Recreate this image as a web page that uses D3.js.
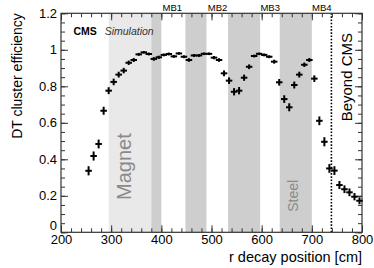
<!DOCTYPE html>
<html>
<head>
<meta charset="utf-8">
<script src="https://cdn.jsdelivr.net/npm/d3@7"></script>
<style>
  body { margin: 0; background: #fff; }
  svg { display: block; font-family: "Liberation Sans", Arial, Helvetica, sans-serif; }
</style>
</head>
<body>
<svg id="chart" width="374" height="268"></svg>
<script>
// bin centres [cm] and efficiency
const rDecay = [255, 265, 275, 285, 295, 305, 315, 325, 335, 345,
                355, 365, 375, 385, 395, 405, 415, 425, 435, 445,
                455, 465, 475, 485, 495, 505, 515, 525, 535, 545,
                555, 565, 575, 585, 595, 605, 615, 625, 635, 645,
                655, 665, 675, 685, 695, 705, 715, 725, 735, 745,
                755, 765, 775, 785, 795];
const efficiency = [0.337, 0.418, 0.484, 0.666, 0.776, 0.824, 0.864, 0.886, 0.929, 0.944,
                    0.975, 0.986, 0.977, 0.950, 0.959, 0.972, 0.977, 0.964, 0.980, 0.962,
                    0.944, 0.969, 0.969, 0.978, 0.978, 0.957, 0.944, 0.871, 0.831, 0.770,
                    0.776, 0.847, 0.907, 0.966, 0.978, 0.972, 0.962, 0.935, 0.822, 0.730,
                    0.685, 0.807, 0.864, 0.918, 0.944, 0.842, 0.611, 0.496, 0.350, 0.338,
                    0.259, 0.236, 0.219, 0.195, 0.173];
const effError = [0.025, 0.025, 0.024, 0.022, 0.019, 0.018, 0.016, 0.015, 0.012, 0.011,
                  0.008, 0.007, 0.008, 0.010, 0.009, 0.008, 0.008, 0.008, 0.007, 0.008,
                  0.010, 0.008, 0.008, 0.007, 0.007, 0.009, 0.010, 0.016, 0.018, 0.020,
                  0.020, 0.017, 0.013, 0.008, 0.007, 0.008, 0.008, 0.011, 0.018, 0.021,
                  0.022, 0.019, 0.016, 0.012, 0.011, 0.018, 0.024, 0.025, 0.024, 0.024,
                  0.022, 0.021, 0.021, 0.020, 0.019];
const rHalfWidth = 6.5;

const magnetRegion = [295, 380];
const steelRegions = [[380, 400], [448, 490], [533, 597], [636, 700]];
const chamberNames = ['MB1', 'MB2', 'MB3', 'MB4'];
const chamberCentres = [422, 512, 617, 720];
const cmsEdge = 739;

const xTickValues = [200, 300, 400, 500, 600, 700, 800];
const yTickValues = [0, 0.2, 0.4, 0.6, 0.8, 1, 1.2];

const frame = { left: 61, right: 362, top: 13.3, bottom: 232.3 };

const svg = d3.select('#chart');
const x = d3.scaleLinear().domain([200, 800]).range([frame.left, frame.right]);
const y = d3.scaleLinear().domain([0, 1.2]).range([frame.bottom, frame.top]);

// shaded detector regions
svg.append('rect')
  .attr('x', x(magnetRegion[0]))
  .attr('y', frame.top)
  .attr('width', x(magnetRegion[1]) - x(magnetRegion[0]))
  .attr('height', frame.bottom - frame.top)
  .attr('fill', '#e9e9e9');

svg.selectAll('rect.steel')
  .data(steelRegions)
  .enter().append('rect')
  .attr('class', 'steel')
  .attr('x', d => x(d[0]))
  .attr('y', frame.top)
  .attr('width', d => x(d[1]) - x(d[0]))
  .attr('height', frame.bottom - frame.top)
  .attr('fill', '#cecece');

// region labels
svg.append('text')
  .attr('transform', `translate(${x(340)},${y(0.36)}) rotate(-90)`)
  .attr('text-anchor', 'middle')
  .attr('font-size', 20)
  .attr('fill', '#8a8a8a')
  .text('Magnet');

svg.append('text')
  .attr('transform', `translate(${x(673)},${y(0.2)}) rotate(-90)`)
  .attr('text-anchor', 'middle')
  .attr('font-size', 14)
  .attr('fill', '#8a8a8a')
  .text('Steel');

svg.append('text')
  .attr('transform', `translate(${x(781)},${y(0.85)}) rotate(-90)`)
  .attr('text-anchor', 'middle')
  .attr('font-size', 15)
  .attr('fill', '#000')
  .text('Beyond CMS');

svg.selectAll('text.mb')
  .data(chamberNames)
  .enter().append('text')
  .attr('class', 'mb')
  .attr('x', (d, i) => x(chamberCentres[i]))
  .attr('y', frame.top - 2)
  .attr('text-anchor', 'middle')
  .attr('font-size', 9.5)
  .text(d => d);

// boundary of the detector
svg.append('line')
  .attr('x1', x(cmsEdge)).attr('x2', x(cmsEdge))
  .attr('y1', y(0)).attr('y2', y(1.2))
  .attr('stroke', '#000')
  .attr('stroke-width', 1.6)
  .attr('stroke-dasharray', '1.6,1.6');

// axes with inward ticks
function addAxis(axis, transform, values, size, labels) {
  const g = svg.append('g')
    .attr('transform', transform)
    .call(axis.tickValues(values).tickSize(size).tickPadding(labels ? 4 : 0)
      .tickFormat(labels ? (d => d3.format('~g')(d)) : () => ''));
  g.select('.domain').remove();
  g.selectAll('line').attr('stroke', '#333').attr('stroke-width', 1);
  g.selectAll('text').attr('font-size', 13).attr('fill', '#000');
  return g;
}

const xMinor = d3.range(200, 801, 20);
const yMinor = d3.range(0, 1.2001, 0.05);

addAxis(d3.axisBottom(x), `translate(0,${frame.bottom})`, xMinor, -4, false);
addAxis(d3.axisTop(x), `translate(0,${frame.top})`, xMinor, -4, false);
addAxis(d3.axisLeft(y), `translate(${frame.left},0)`, yMinor, -4, false);
addAxis(d3.axisRight(y), `translate(${frame.right},0)`, yMinor, -4, false);

const xAxisG = addAxis(d3.axisBottom(x), `translate(0,${frame.bottom})`, xTickValues, -7, true);
xAxisG.selectAll('text').attr('dy', '0.62em');
addAxis(d3.axisTop(x), `translate(0,${frame.top})`, xTickValues, -7, false);
const yAxisG = addAxis(d3.axisLeft(y), `translate(${frame.left},0)`, yTickValues, -7, true);
yAxisG.selectAll('text').filter(d => d === 0).attr('dy', '-0.2em');
addAxis(d3.axisRight(y), `translate(${frame.right},0)`, yTickValues, -7, false);

svg.append('rect')
  .attr('x', frame.left).attr('y', frame.top)
  .attr('width', frame.right - frame.left).attr('height', frame.bottom - frame.top)
  .attr('fill', 'none')
  .attr('stroke', '#333')
  .attr('stroke-width', 1.2);

// data points with error bars
const points = rDecay.map((r, i) => ({ r: r, eff: efficiency[i], err: effError[i] }));
const marks = svg.append('g').attr('stroke', '#000').attr('stroke-width', 2);
marks.selectAll('line.xerr')
  .data(points)
  .enter().append('line')
  .attr('class', 'xerr')
  .attr('x1', d => x(d.r - rHalfWidth))
  .attr('x2', d => x(d.r + rHalfWidth))
  .attr('y1', d => y(d.eff))
  .attr('y2', d => y(d.eff));
marks.selectAll('line.yerr')
  .data(points)
  .enter().append('line')
  .attr('class', 'yerr')
  .attr('x1', d => x(d.r))
  .attr('x2', d => x(d.r))
  .attr('y1', d => y(d.eff - d.err))
  .attr('y2', d => y(d.eff + d.err));

// labels
svg.append('text')
  .attr('x', x(225))
  .attr('y', y(1.08))
  .attr('font-size', 10.5)
  .attr('font-weight', 'bold')
  .text('CMS');
svg.append('text')
  .attr('x', x(287))
  .attr('y', y(1.08))
  .attr('font-size', 10.5)
  .attr('font-style', 'italic')
  .attr('fill', '#333')
  .text('Simulation');

svg.append('text')
  .attr('x', frame.right)
  .attr('y', 262)
  .attr('text-anchor', 'end')
  .attr('font-size', 14.5)
  .text('r decay position [cm]');

svg.append('text')
  .attr('transform', `translate(22,${frame.top}) rotate(-90)`)
  .attr('text-anchor', 'end')
  .attr('font-size', 14)
  .text('DT cluster efficiency');
</script>
</body>
</html>
